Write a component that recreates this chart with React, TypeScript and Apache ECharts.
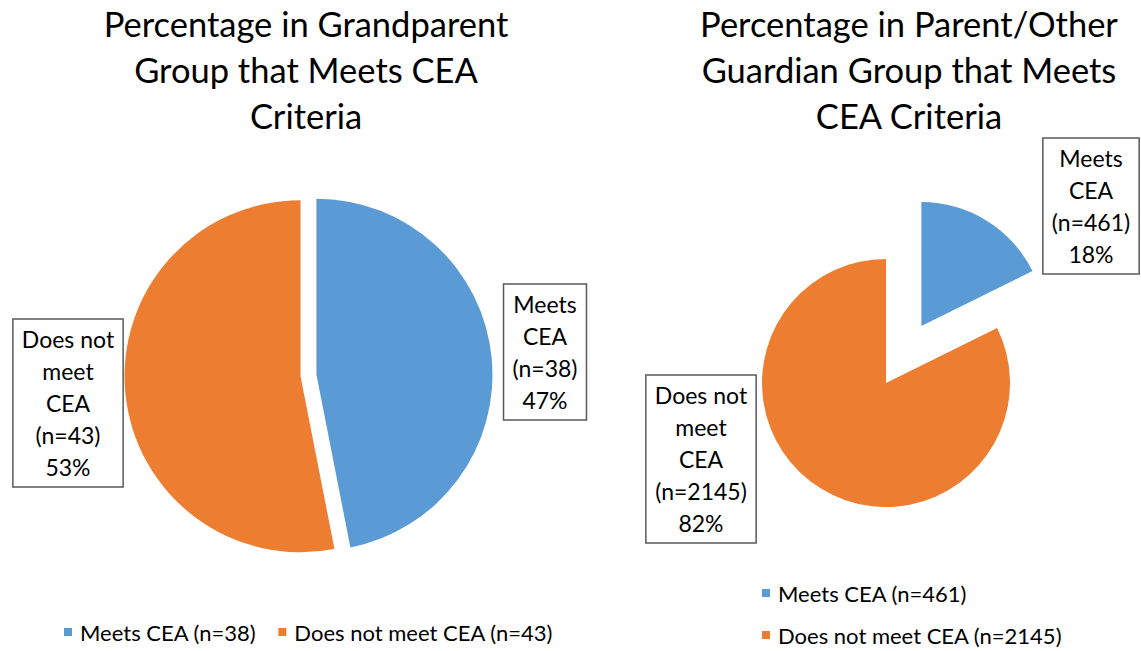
import React, { useEffect, useRef } from "react";
import * as echarts from "echarts";

// ---- Data ----
const grandparentNames = ["Meets CEA (n=38)", "Does not meet CEA (n=43)"];
const grandparentCounts = [38, 43];
const parentNames = ["Meets CEA (n=461)", "Does not meet CEA (n=2145)"];
const parentCounts = [461, 2145];
const titleTexts = [
  "Percentage in Grandparent\nGroup that Meets CEA\nCriteria",
  "Percentage in Parent/Other\nGuardian Group that Meets\nCEA Criteria",
];

// ---- Styles / layout ----
const COLORS = ["#5B9BD5", "#ED7D31"];
const FONT = "Lato, 'Open Sans', sans-serif";
const PIES = [
  { center: [308.5, 375.5], radius: 176, offset: 8, explode: [true, true] },
  { center: [886, 383], radius: 124, offset: 67, explode: [true, false] },
];
const LABEL_POS: number[][][] = [
  [
    [545, 352],
    [68, 403],
  ],
  [
    [1091, 206],
    [701, 459],
  ],
];

function wrapName(name: string): string {
  return name
    .replace(" (", "\n(")
    .replace("Does not meet ", "Does not\nmeet\n")
    .replace("Meets ", "Meets\n");
}

export default function App() {
  const ref = useRef<HTMLDivElement>(null);
  useEffect(() => {
    document.body.style.margin = "0";
    if (!ref.current) return;
    const chart = echarts.init(ref.current, undefined, { renderer: "svg" });
    const labelStyle = {
      show: true,
      position: "inside",
      overflow: "none",
      formatter: (p: any) => `${wrapName(p.name)}\n${p.percent}%`,
      fontFamily: FONT,
      fontSize: 23,
      lineHeight: 32,
      color: "#000",
      borderColor: "#595959",
      borderWidth: 1.5,
      padding: [4, 9, 4, 9],
      align: "center",
    };
    const makeLayout = (si: number) => (params: any) => {
      const pos = LABEL_POS[si][params.dataIndex];
      return { x: pos[0], y: pos[1], align: "center", verticalAlign: "middle" };
    };
    const legendText = {
      fontFamily: FONT,
      fontSize: 22,
      lineHeight: 26,
      color: "#000",
      padding: [0, 0, 0, 3],
    };
    const titleStyle = {
      fontFamily: FONT,
      fontSize: 34.5,
      lineHeight: 46,
      fontWeight: "normal",
      color: "#000",
    };
    const datasets = [
      { names: grandparentNames, counts: grandparentCounts },
      { names: parentNames, counts: parentCounts },
    ];
    const sliceSeries = datasets.map((d, si) => ({
      type: "pie",
      center: PIES[si].center,
      radius: PIES[si].radius,
      startAngle: 90,
      clockwise: true,
      selectedMode: "multiple",
      selectedOffset: PIES[si].offset,
      emphasis: { disabled: true },
      label: { show: false },
      labelLine: { show: false },
      data: d.names.map((n, i) => ({
        name: n,
        value: d.counts[i],
        selected: PIES[si].explode[i],
      })),
    }));
    const labelSeries = datasets.map((d, si) => ({
      type: "pie",
      center: PIES[si].center,
      radius: PIES[si].radius,
      startAngle: 90,
      clockwise: true,
      silent: true,
      legendHoverLink: false,
      percentPrecision: 0,
      z: 5,
      emphasis: { disabled: true },
      itemStyle: { color: "rgba(0,0,0,0)" },
      label: labelStyle,
      labelLine: { show: false },
      labelLayout: makeLayout(si),
      data: d.names.map((n, i) => ({ name: n, value: d.counts[i] })),
    }));
    chart.setOption({
      animation: false,
      color: COLORS,
      title: [
        { text: titleTexts[0], left: 301, top: -5, textAlign: "center", textStyle: titleStyle },
        { text: titleTexts[1], left: 904, top: -5, textAlign: "center", textStyle: titleStyle },
      ],
      legend: [
        {
          data: grandparentNames,
          left: 64,
          top: 619,
          padding: 0,
          icon: "rect",
          itemWidth: 8,
          itemHeight: 8,
          itemGap: 22,
          selectedMode: false,
          textStyle: legendText,
        },
        {
          data: parentNames,
          orient: "vertical",
          left: 762,
          top: 580,
          padding: 0,
          icon: "rect",
          itemWidth: 8,
          itemHeight: 8,
          itemGap: 16,
          selectedMode: false,
          textStyle: legendText,
        },
      ],
      series: [...sliceSeries, ...labelSeries],
    });
    return () => chart.dispose();
  }, []);
  return <div ref={ref} style={{ width: 1141, height: 651 }} />;
}
